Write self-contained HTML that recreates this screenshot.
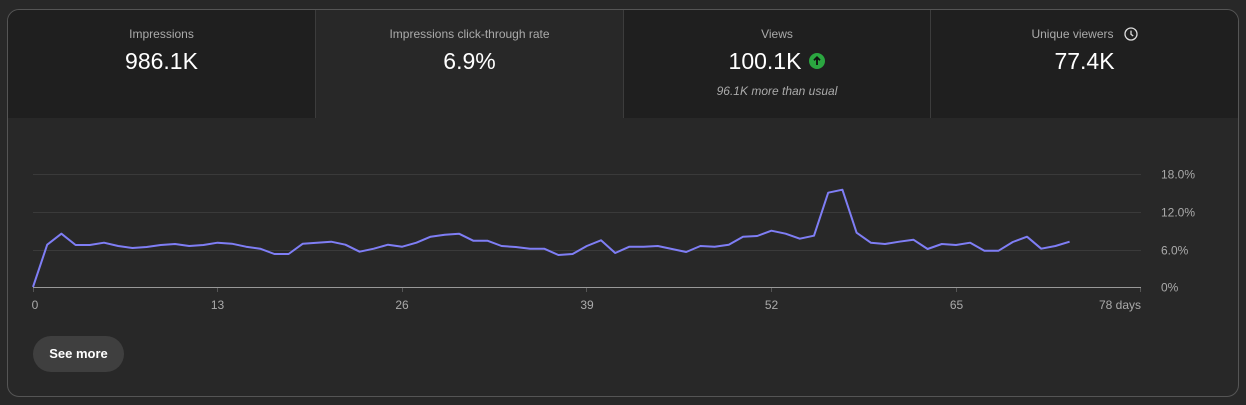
<!DOCTYPE html>
<html>
<head>
<meta charset="utf-8">
<style>
  html,body{margin:0;padding:0;}
  body{width:1246px;height:405px;background:#282828;position:relative;overflow:hidden;font-family:"Liberation Sans",Arial,sans-serif;}
  .card{position:absolute;left:7px;top:9px;width:1230px;height:386px;border:1px solid #555;border-radius:12px;background:#282828;overflow:hidden;}
  .tile{position:absolute;top:0;height:108px;background:#1f1f1f;}
  .tile.sel{background:#282828;}
  .div{position:absolute;top:0;width:1px;height:108px;background:#3c3c3c;}
  .lbl{position:absolute;left:0;right:0;top:17px;height:14px;line-height:14px;font-size:12px;color:#aaa;display:flex;justify-content:center;align-items:center;}
  .val{position:absolute;left:0;right:0;top:38px;height:26px;line-height:26px;font-size:23px;color:#fff;display:flex;justify-content:center;align-items:center;}
  .sub{position:absolute;left:0;right:0;top:74px;height:14px;line-height:14px;font-size:12px;color:#aaa;font-style:italic;text-align:center;}
  .btn{position:absolute;left:25px;top:326px;width:91px;height:36px;border-radius:18px;background:#3f3f3f;color:#fff;font-weight:bold;font-size:13px;line-height:36px;text-align:center;}
  svg{position:absolute;left:0;top:0;}
</style>
</head>
<body>
<div class="card">
  <div class="tile" style="left:0;width:307px;">
    <div class="lbl">Impressions</div>
    <div class="val">986.1K</div>
  </div>
  <div class="div" style="left:307px;"></div>
  <div class="tile sel" style="left:308px;width:307px;">
    <div class="lbl">Impressions click-through rate</div>
    <div class="val">6.9%</div>
  </div>
  <div class="div" style="left:615px;"></div>
  <div class="tile" style="left:616px;width:306px;">
    <div class="lbl">Views</div>
    <div class="val">100.1K<svg style="position:static;margin-left:8px" width="16" height="16" viewBox="0 0 16 16"><circle cx="8" cy="8" r="8" fill="#2ba640"/><path d="M8 12V4.5M5 7.3L8 4.3L11 7.3" stroke="#0f0f0f" stroke-width="1.8" fill="none"/></svg></div>
    <div class="sub">96.1K more than usual</div>
  </div>
  <div class="div" style="left:922px;"></div>
  <div class="tile" style="left:923px;width:307px;">
    <div class="lbl">Unique viewers<svg style="position:static;margin-left:10px" width="14" height="14" viewBox="0 0 14 14"><circle cx="7" cy="7" r="6" stroke="#ddd" stroke-width="1.3" fill="none"/><path d="M7 3.6V7.3L9.2 9" stroke="#ddd" stroke-width="1.3" fill="none"/></svg></div>
    <div class="val">77.4K</div>
  </div>
  <div class="btn">See more</div>
</div>

<svg width="1246" height="405" viewBox="0 0 1246 405">
  <g stroke="#3a3a3a" stroke-width="1">
    <line x1="33" y1="174.5" x2="1141" y2="174.5"/>
    <line x1="33" y1="212.5" x2="1141" y2="212.5"/>
    <line x1="33" y1="250.5" x2="1141" y2="250.5"/>
  </g>
  <g stroke="#555" stroke-width="1">
    <line x1="33.5" y1="287" x2="33.5" y2="292"/>
    <line x1="217.5" y1="287" x2="217.5" y2="292"/>
    <line x1="402.5" y1="287" x2="402.5" y2="292"/>
    <line x1="586.5" y1="287" x2="586.5" y2="292"/>
    <line x1="771.5" y1="287" x2="771.5" y2="292"/>
    <line x1="956.5" y1="287" x2="956.5" y2="292"/>
    <line x1="1140.5" y1="287" x2="1140.5" y2="292"/>
  </g>
  <line x1="33" y1="287.5" x2="1141" y2="287.5" stroke="#999" stroke-width="1"/>
  <polyline fill="none" stroke="#7f7ef5" stroke-width="2" stroke-linejoin="round" points="
33,287 47.2,244.7 61.4,233.7 75.6,245 89.8,245 104,242.7 118.2,246 132.4,248 146.6,247 160.8,245
175,244 189.2,246 203.4,245 217.6,242.7 231.8,243.7 246,246.7 260.2,248.7 274.4,254 288.6,254 302.8,243.7
317,242.7 331.2,241.7 345.4,244.7 359.6,251.7 373.8,248.7 388,244.7 402.2,246.7 416.4,242.7 430.6,236.7 444.8,234.7
459,233.7 473.2,240.7 487.4,240.7 501.6,246 515.8,247 530,248.7 544.2,248.7 558.4,255 572.6,254 586.8,246
601,240.3 615.2,253 629.4,246.7 643.6,246.7 657.8,246 672,249 686.2,252 700.4,246 714.6,246.7 728.8,244.7
743,236.7 757.2,236 771.4,230.7 785.6,233.7 799.8,238.7 814,235.7 828.2,192.7 842.4,189.7 856.6,232.7 870.8,242.7
885,244 899.2,241.7 913.4,239.7 927.6,249 941.8,244 956,245 970.2,242.7 984.4,250.7 998.6,250.7 1012.8,242
1027,236.7 1041.2,248.7 1055.4,246 1069.6,241.7"/>
  <g font-family="Liberation Sans, Arial, sans-serif" font-size="12" fill="#aaa">
    <text x="1161" y="178.5">18.0%</text>
    <text x="1161" y="216.5">12.0%</text>
    <text x="1161" y="254.5">6.0%</text>
    <text x="1161" y="291.5">0%</text>
    <text x="35" y="309" text-anchor="middle">0</text>
    <text x="217.5" y="309" text-anchor="middle">13</text>
    <text x="402" y="309" text-anchor="middle">26</text>
    <text x="587" y="309" text-anchor="middle">39</text>
    <text x="771.5" y="309" text-anchor="middle">52</text>
    <text x="956.5" y="309" text-anchor="middle">65</text>
    <text x="1141" y="309" text-anchor="end">78 days</text>
  </g>
</svg>
</body>
</html>
